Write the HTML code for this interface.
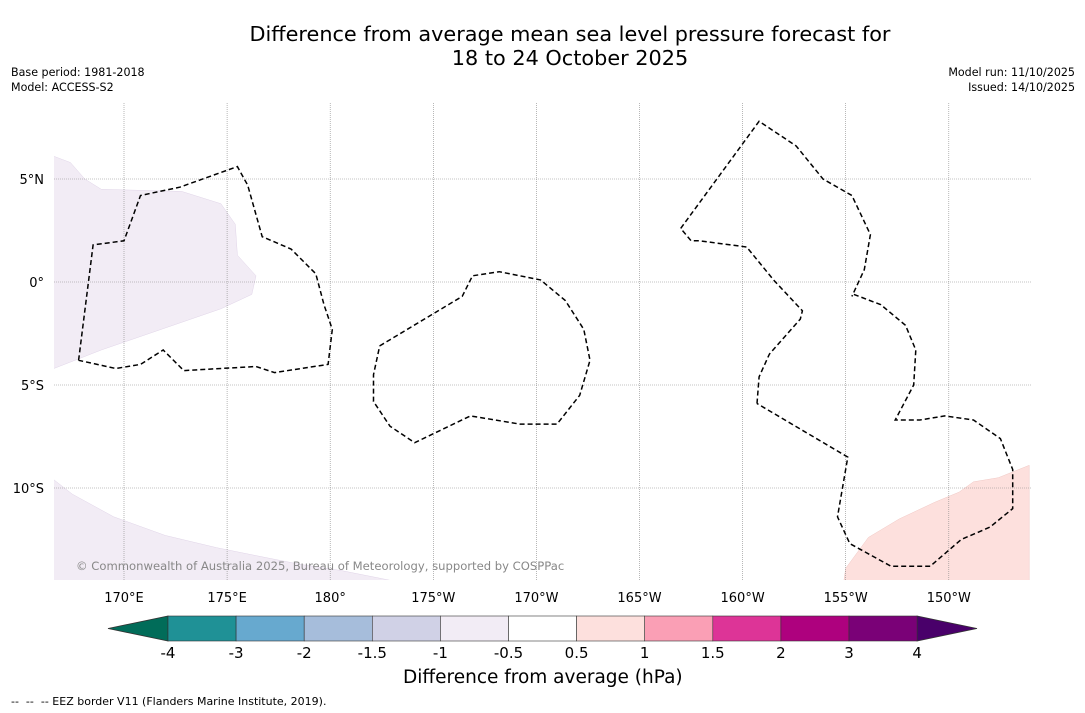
<!DOCTYPE html>
<html><head><meta charset="utf-8"><style>
body{margin:0;background:#fff;font-family:"DejaVu Sans","Liberation Sans",sans-serif;}
#root{position:relative;width:1085px;height:713px;overflow:hidden;background:#fff}
.t{position:absolute;white-space:nowrap;color:#000}
svg text{font-family:"DejaVu Sans","Liberation Sans",sans-serif}
</style></head><body>
<div id="root">
<div class="t" style="left:0;width:1140px;text-align:center;top:22px;font-size:20.8px;line-height:24px">Difference from average mean sea level pressure forecast for<br>18 to 24 October 2025</div>
<div class="t" style="left:11px;top:65px;font-size:11.1px;line-height:15px">Base period: 1981-2018<br>Model: ACCESS-S2</div>
<div class="t" style="right:10px;top:65px;font-size:11.1px;line-height:15px;text-align:right">Model run: 11/10/2025<br>Issued: 14/10/2025</div>
<svg id="map" width="1085" height="713" style="position:absolute;left:0;top:0"></svg>
<div class="t" style="left:403px;top:667px;font-size:18.5px">Difference from average (hPa)</div>
<div class="t" style="left:11px;top:695px;font-size:11px">-- &nbsp;-- &nbsp;-- EEZ border V11 (Flanders Marine Institute, 2019).</div>
</div>
<script>
const lonTicks=[170,175,180,185,190,195,200,205,210];
const lonLabels=["170°E","175°E","180°","175°W","170°W","165°W","160°W","155°W","150°W"];
const latTicks=[5,0,-5,-10];
const latLabels=["5°N","0°","5°S","10°S"];
const cbLevels=["-4","-3","-2","-1.5","-1","-0.5","0.5","1","1.5","2","3","4"];
const cbColors=["#1f9196","#67a9cf","#a6bddb","#d0d1e6","#f2ecf5","#ffffff","#fde0dd","#fa9fb5","#dd3497","#ae017e","#7a0177"];
const eezLeft=[[167.8,-3.8],[168.5,1.8],[170.0,2.0],[170.8,4.2],[172.7,4.6],[175.5,5.6],[176.0,4.7],[176.7,2.2],[178.1,1.6],[179.3,0.4],[179.7,-1.1],[180.1,-2.3],[179.9,-4.0],[177.3,-4.4],[176.4,-4.1],[172.9,-4.3],[171.9,-3.3],[170.8,-4.0],[169.6,-4.2],[167.8,-3.8]];
const eezMid=[[182.4,-3.1],[186.4,-0.7],[186.9,0.3],[188.2,0.5],[190.2,0.1],[191.4,-0.9],[192.3,-2.3],[192.6,-3.8],[192.1,-5.5],[191.0,-6.9],[189.2,-6.9],[186.8,-6.5],[184.1,-7.8],[182.9,-7.0],[182.1,-5.8],[182.1,-4.5],[182.4,-3.1]];
const eezRight=[[197.0,2.6],[200.8,7.8],[202.6,6.6],[203.9,5.0],[205.3,4.2],[206.2,2.3],[205.9,0.6],[205.3,-0.7]];
const eezRight2=[[200.7,-5.9],[200.8,-4.6],[201.3,-3.5],[202.8,-1.8],[202.9,-1.4],[201.5,0.1],[200.2,1.7],[197.9,2.0],[197.5,2.0],[197.0,2.6]];
const eezRight3=[[205.4,-0.6],[206.7,-1.1],[207.9,-2.1],[208.4,-3.3],[208.3,-5.0],[207.4,-6.7],[208.6,-6.7],[209.8,-6.5],[211.2,-6.7],[212.5,-7.6],[213.1,-9.1],[213.1,-11.0],[212.0,-11.9],[210.6,-12.5],[209.1,-13.8],[207.2,-13.8],[205.2,-12.7],[204.6,-11.4],[205.1,-8.5],[200.7,-5.9]];
const fillNW=[[166.6,6.1],[167.4,5.8],[168.1,5.0],[168.9,4.5],[172.8,4.4],[174.7,3.8],[175.4,2.8],[175.5,1.3],[176.4,0.3],[176.2,-0.6],[174.7,-1.3],[171.8,-2.3],[168.9,-3.3],[166.6,-4.2]];
const fillSW=[[166.6,-9.6],[167.5,-10.3],[169.5,-11.4],[172.0,-12.3],[174.5,-12.9],[176.5,-13.3],[178.5,-13.7],[180.5,-14.0],[182.5,-14.4],[183.5,-14.6],[166.6,-14.6]];
const fillSE=[[204.9,-14.6],[205.0,-13.9],[206.1,-12.4],[207.6,-11.5],[209.3,-10.7],[210.5,-10.2],[211.2,-9.7],[212.4,-9.5],[213.9,-8.9],[213.9,-14.6]];
const X0=54,X1=1031,Y0=103,Y1=580;
const px=l=>124+(l-170)*20.62, py=l=>282-l*20.6;
const svg=document.getElementById('map');const NS='http://www.w3.org/2000/svg';
function mk(t,a,p){const e=document.createElementNS(NS,t);for(const k in a)e.setAttribute(k,a[k]);(p||svg).appendChild(e);return e;}
const clip=mk('clipPath',{id:'cl'});mk('rect',{x:X0,y:Y0,width:X1-X0,height:Y1-Y0},clip);
const g=mk('g',{'clip-path':'url(#cl)'});
function poly(pts,fill,stroke,dash,name){const d=pts.map((p,i)=>(i?'L':'M')+px(p[0]).toFixed(1)+','+py(p[1]).toFixed(1)).join('');const e=mk('path',{d:d,fill:fill,stroke:stroke,'stroke-width':dash?1.5:0.5,'stroke-dasharray':dash?'5,3':'none'},g);

}
poly(fillNW,'#f2ecf5','#e0d4e8',false,'anomaly-area-nw');
poly(fillSW,'#f2ecf5','#e0d4e8',false,'anomaly-area-sw');
poly(fillSE,'#fde0dd','#f0c8c4',false,'anomaly-area-se');
lonTicks.forEach((l,i)=>{const x=px(l);mk('line',{x1:x,x2:x,y1:Y0,y2:Y1,stroke:'#888','stroke-width':0.6,'stroke-dasharray':'1,1'},g);
const t=mk('text',{x:x,y:602,'text-anchor':'middle','font-size':13});t.textContent=lonLabels[i];

});
latTicks.forEach((l,i)=>{const y=py(l);mk('line',{x1:X0,x2:X1,y1:y,y2:y,stroke:'#888','stroke-width':0.6,'stroke-dasharray':'1,1'},g);
const t=mk('text',{x:44,y:y+5,'text-anchor':'end','font-size':13});t.textContent=latLabels[i];

});
poly(eezLeft,'none','#000',true,'eez-border-kiribati-gilbert');
poly(eezMid,'none','#000',true,'eez-border-phoenix');
poly(eezRight,'none','#000',true,'eez-border-line-islands');
poly(eezRight2,'none','#000',true,'eez-border-line-islands-west');
poly(eezRight3,'none','#000',true,'eez-border-french-polynesia');
const wm=mk('text',{x:76,y:570,'font-size':11.6,fill:'#888'});wm.textContent='© Commonwealth of Australia 2025, Bureau of Meteorology, supported by COSPPac';


const cx0=168,cw=68.1,cy=616,ch=25;
const lt=mk('path',{d:`M108,628.5L${cx0},${cy}L${cx0},${cy+ch}Z`,fill:'#016c59',stroke:'#333','stroke-width':0.8});


const rx=cx0+cw*cbColors.length;
const rt=mk('path',{d:`M${rx},${cy}L977,628.5L${rx},${cy+ch}Z`,fill:'#49006a',stroke:'#333','stroke-width':0.8});


cbColors.forEach((c,i)=>{const r=mk('rect',{x:cx0+i*cw,y:cy,width:cw,height:ch,fill:c,stroke:'#333','stroke-width':0.6});

});
cbLevels.forEach((v,i)=>{const t=mk('text',{x:cx0+i*cw,y:658,'text-anchor':'middle','font-size':15});t.textContent=v;

});
</script>
</body></html>
